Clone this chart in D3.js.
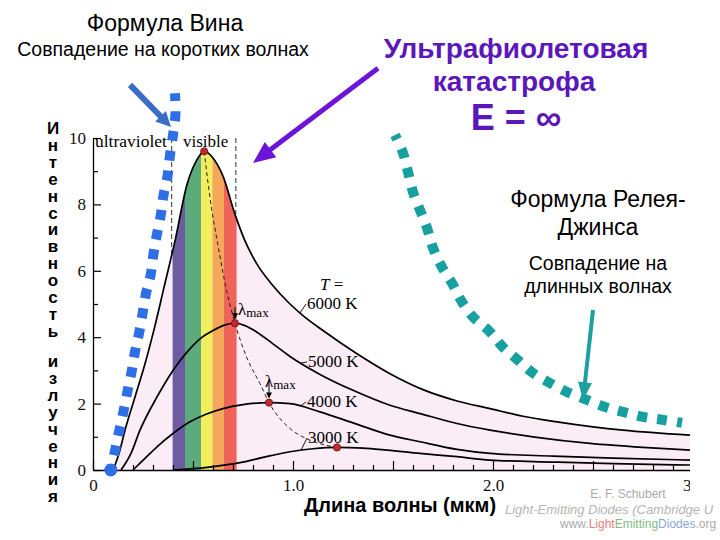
<!DOCTYPE html>
<html><head><meta charset="utf-8">
<script src="https://cdn.jsdelivr.net/npm/d3@7/dist/d3.min.js"></script>
<style>html,body{margin:0;padding:0;background:#fff}svg{display:block}
.vt{writing-mode:vertical-rl;text-orientation:upright;}</style>
</head><body>
<svg width="720" height="540"></svg>
<script>
// ---------- DATA (wavelength, µm ; intensity, a.u.) ----------
const curve6000 = [[0.10,0],[0.13,0.5],[0.16,1.2],[0.21,2.2],[0.26,3.2],[0.31,4.35],[0.355,5.5],[0.41,6.9],[0.47,8.6],[0.52,9.35],[0.556,9.6],[0.60,9.4],[0.65,8.85],[0.71,7.7],[0.76,6.9],[0.82,6.2],[0.90,5.55],[0.985,5.0],[1.05,4.65],[1.15,4.2],[1.32,3.5],[1.485,2.9],[1.65,2.42],[1.82,2.08],[1.985,1.85],[2.15,1.62],[2.32,1.45],[2.5,1.3],[2.65,1.2],[2.985,1.05]];
const curve5000 = [[0.14,0],[0.19,0.5],[0.235,1.2],[0.32,2.2],[0.40,3.0],[0.47,3.55],[0.535,3.95],[0.60,4.2],[0.65,4.35],[0.71,4.42],[0.76,4.35],[0.82,4.15],[0.90,3.8],[0.985,3.42],[1.135,2.88],[1.30,2.4],[1.485,1.95],[1.635,1.7],[1.82,1.4],[1.985,1.2],[2.2,1.0],[2.485,0.8],[2.75,0.68],[2.985,0.6]];
const curve4000 = [[0.20,0],[0.26,0.35],[0.32,0.7],[0.40,1.1],[0.485,1.45],[0.565,1.68],[0.65,1.85],[0.75,1.97],[0.88,2.03],[0.985,2.0],[1.135,1.75],[1.30,1.42],[1.485,1.05],[1.635,0.85],[1.82,0.62],[1.985,0.5],[2.3,0.42],[2.6,0.36],[2.985,0.3]];
const curve3000 = [[0.40,0],[0.57,0.08],[0.735,0.22],[0.85,0.38],[0.985,0.55],[1.1,0.64],[1.22,0.68],[1.35,0.66],[1.47,0.6],[1.635,0.5],[1.82,0.4],[1.985,0.3],[2.3,0.24],[2.6,0.19],[2.985,0.15]];
const wienPeakLine = [[0.556,9.6],[0.585,8.2],[0.627,6.7],[0.668,5.4],[0.71,4.42],[0.768,3.4],[0.835,2.6],[0.88,2.03],[0.985,1.25],[1.085,0.9],[1.22,0.68]];
const peaks = [[0.556,9.6],[0.71,4.42],[0.88,2.03],[1.22,0.68]];
const wienApprox = [[0.089,0],[0.11,0.58],[0.13,1.15],[0.152,1.75],[0.172,2.36],[0.193,2.96],[0.21,3.56],[0.231,4.14],[0.248,4.72],[0.265,5.32],[0.289,5.9],[0.302,6.5],[0.319,7.08],[0.339,7.68],[0.352,8.26],[0.372,8.83],[0.385,9.49],[0.40,10.09],[0.412,10.7],[0.41,11.35]];
const rayleighJeans = [[1.51,10.09],[1.55,9.55],[1.575,8.98],[1.60,8.37],[1.635,7.83],[1.67,7.29],[1.70,6.69],[1.745,6.11],[1.795,5.63],[1.845,5.06],[1.90,4.61],[1.985,4.16],[2.05,3.70],[2.125,3.31],[2.2,2.92],[2.285,2.62],[2.37,2.35],[2.47,2.11],[2.56,1.90],[2.65,1.75],[2.75,1.60],[2.85,1.51],[2.945,1.42]];
const bandEdges = [0.398,0.46,0.54,0.597,0.655,0.718];
const uvBoundary = [0.393, 10, 6.4];
const visBoundary = [0.714, 10, 7.7];
const xTickValues = [0,0.5,1,1.5,2,2.5,3];
const xTickLabels = ["0","","1.0","","2.0","","3.0"];
const yTickValues = [0,2,4,6,8,10];
const yTickLabels = ["0","2","4","6","8","10"];
const tempLabels = ["6000 K","5000 K","4000 K","3000 K"];
const yTitleWords = ["Интенсивность","излучения"];

// ---------- STYLE ----------
const bandColors = ["#6c5da3","#5bab7c","#f1ef5e","#f5a75a","#ef6459"];
const purple = "#5b17b8";

const svg = d3.select("svg");
const defs = svg.append("defs");
const x = d3.scaleLinear([0,3],[93,693]);
const y = d3.scaleLinear([0,10],[470,138]);

defs.append("clipPath").attr("id","plotclip").append("rect")
  .attr("x",0).attr("y",0).attr("width",690).attr("height",540);
const plot = svg.append("g").attr("clip-path","url(#plotclip)");

const line = d3.line().x(d=>x(d[0])).y(d=>y(d[1])).curve(d3.curveMonotoneX);
const area = d3.area().x(d=>x(d[0])).y0(y(0)).y1(d=>y(d[1])).curve(d3.curveMonotoneX);

// pink area under 6000K
plot.append("path").attr("d", area(curve6000)).attr("fill","#fbedf5");
defs.append("clipPath").attr("id","under6000").append("path").attr("d", area(curve6000));
const bands = plot.append("g").attr("clip-path","url(#under6000)");
bands.selectAll("rect").data(d3.pairs(bandEdges)).join("rect")
  .attr("x", d=>x(d[0])).attr("width", d=>x(d[1])-x(d[0]))
  .attr("y", y(10.5)).attr("height", y(0)-y(10.5))
  .attr("fill", (d,i)=>bandColors[i]);

// boundary dashed lines
[uvBoundary, visBoundary].forEach(b=>{
  plot.append("line").attr("x1",x(b[0])).attr("x2",x(b[0])).attr("y1",y(b[1])).attr("y2",y(b[2]))
    .attr("stroke","#555").attr("stroke-width",1.2).attr("stroke-dasharray","5,3");
});

// Wien displacement dashed line
plot.append("path").attr("d", line(wienPeakLine)).attr("fill","none")
  .attr("stroke","#222").attr("stroke-width",1).attr("stroke-dasharray","4,3");

// curves
[curve6000, curve5000, curve4000, curve3000].forEach(c=>{
  plot.append("path").attr("d", line(c)).attr("fill","none")
    .attr("stroke","#000").attr("stroke-width",1.7);
});

// axes
const fontSerif = "'Liberation Serif','Times New Roman',serif";
plot.append("g").attr("transform",`translate(${x(0)},0)`)
  .call(d3.axisLeft(y).tickValues(yTickValues).tickFormat((d,i)=>yTickLabels[i])
    .tickSizeInner(-8).tickSizeOuter(0).tickPadding(7));
plot.append("g").attr("transform",`translate(${x(0)},0)`)
  .call(d3.axisLeft(y).tickValues([1,3,5,7,9]).tickFormat("").tickSizeInner(-5).tickSizeOuter(0))
  .select(".domain").remove();
plot.append("g").attr("transform",`translate(0,${y(0)})`)
  .call(d3.axisBottom(x).tickValues(xTickValues).tickFormat((d,i)=>xTickLabels[i])
    .tickSizeInner(-9).tickSizeOuter(0).tickPadding(9));
plot.append("g").attr("transform",`translate(0,${y(0)})`)
  .call(d3.axisBottom(x).tickValues(d3.range(0,31).map(i=>i/10).filter(v=>Math.abs(v*2-Math.round(v*2))>1e-6))
    .tickFormat("").tickSizeInner(-5).tickSizeOuter(0))
  .select(".domain").remove();
plot.selectAll(".tick line").attr("stroke","#000").attr("stroke-width",1.2);
plot.selectAll(".domain").attr("stroke","#000").attr("stroke-width",1.3);
plot.selectAll(".tick text").attr("font-family",fontSerif).attr("font-size",17).attr("fill","#111");

// region labels
plot.append("text").attr("x",95).attr("y",147).attr("font-family",fontSerif).attr("font-size",17.5).text("ultraviolet");
plot.append("text").attr("x",183).attr("y",147).attr("font-family",fontSerif).attr("font-size",17).text("visible");

// temperature labels
const tl = [[307,309],[308,367],[307,407],[308,443]];
plot.append("text").attr("x",320).attr("y",290).attr("font-family",fontSerif).attr("font-size",17)
  .html('<tspan font-style="italic">T</tspan> =');
const curves = [curve6000, curve5000, curve4000, curve3000];
tempLabels.forEach((t,i)=>{
  plot.append("text").attr("x",tl[i][0]).attr("y",tl[i][1]).attr("font-family",fontSerif).attr("font-size",17).text(t);
  const c = curves[i];
  const interp = d3.scaleLinear(c.map(d=>d[0]), c.map(d=>d[1]));
  const lx = tl[i][0]-1, ly = tl[i][1]-5;
  const ex = lx-6, ey = y(interp(x.invert(ex)));
  plot.append("line").attr("x1",lx).attr("y1",ly).attr("x2",ex).attr("y2",ey).attr("stroke","#000").attr("stroke-width",0.9);
});

// lambda max labels with arrows
function smallArrow(px, y0, y1){
  plot.append("line").attr("x1",px).attr("x2",px).attr("y1",y0).attr("y2",y1-4).attr("stroke","#000").attr("stroke-width",1);
  plot.append("polygon").attr("points",`${px},${y1} ${px-3},${y1-6} ${px+3},${y1-6}`).attr("fill","#000");
}
[[1,3,8],[2,-4,16]].forEach(([pi,dx,dy])=>{
  const px = x(peaks[pi][0]), py = y(peaks[pi][1]);
  plot.append("text").attr("x",px+dx).attr("y",py-dy).attr("font-family",fontSerif).attr("font-size",17)
    .html('λ<tspan font-size="13" dy="2">max</tspan>');
  smallArrow(px, py-dy-8, py-4);
});

// peak dots
plot.selectAll("circle.pk").data(peaks).join("circle").attr("class","pk")
  .attr("cx",d=>x(d[0])).attr("cy",d=>y(d[1])).attr("r",3.6)
  .attr("fill","#c22a2e").attr("stroke","#6b0f12").attr("stroke-width",0.8);

// ---------- overlays ----------
const sans = "'Liberation Sans',Arial,sans-serif";
// y title, stacked upright letters (vertical writing mode)
yTitleWords.forEach((w,wi)=>{
  svg.append("text").attr("class","vt").attr("x",53).attr("y",wi===0?119:352)
    .attr("font-family",sans).attr("font-weight","bold").attr("font-size",17)
    .attr("letter-spacing","-2.1px").text(w);
});

// Wien approximation (blue dotted)
const curveSmooth = d3.line().x(d=>x(d[0])).y(d=>y(d[1])).curve(d3.curveCatmullRom);
svg.append("path").attr("d", curveSmooth(wienApprox)).attr("fill","none")
  .attr("stroke","#2f6fe6").attr("stroke-width",10).attr("stroke-dasharray","10 10").attr("stroke-dashoffset",5);
svg.append("circle").attr("cx",x(wienApprox[0][0])).attr("cy",y(wienApprox[0][1])).attr("r",6.5).attr("fill","#2f6fe6");

// Rayleigh-Jeans (teal dotted)
svg.append("path").attr("d", curveSmooth(rayleighJeans)).attr("fill","none")
  .attr("stroke","#17a0a0").attr("stroke-width",10).attr("stroke-dasharray","10 10").attr("stroke-dashoffset",5);

function arrow(p0,p1,color,w,hl,hw){
  const x0=x(p0[0]),y0=y(p0[1]),x1=x(p1[0]),y1=y(p1[1]);
  const dx=x1-x0,dy=y1-y0,L=Math.hypot(dx,dy),ux=dx/L,uy=dy/L;
  const bx=x1-ux*hl,by=y1-uy*hl;
  svg.append("line").attr("x1",x0).attr("y1",y0).attr("x2",bx+ux*2).attr("y2",by+uy*2)
    .attr("stroke",color).attr("stroke-width",w);
  svg.append("polygon").attr("points",`${x1},${y1} ${bx-uy*hw/2},${by+ux*hw/2} ${bx+uy*hw/2},${by-ux*hw/2}`).attr("fill",color);
}
arrow([0.185,11.6],[0.39,10.33],"#3a6cc8",6,15,15);
arrow([1.425,12.1],[0.80,9.25],"#6c14d8",5,22,19);
arrow([2.5,4.82],[2.45,2.1],"#1ea0a0",4,18,14);

// texts
function txt(t,cx,by,size,opts={}){
  svg.append("text").attr("x",cx).attr("y",by).attr("text-anchor",opts.anchor||"middle")
    .attr("font-family",sans).attr("font-size",size).attr("font-weight",opts.bold?"bold":"normal")
    .attr("fill",opts.fill||"#000").attr("font-style",opts.italic?"italic":"normal").text(t);
}
txt("Формула Вина",165,31,23);
txt("Совпадение на коротких волнах",163,56,19.5);
txt("Ультрафиолетовая",516,58,28,{bold:true,fill:purple});
txt("катастрофа",514,91,28,{bold:true,fill:purple});
txt("E = ∞",516,130,36,{bold:true,fill:purple});
txt("Формула Релея-",598,207,23);
txt("Джинса",598,235,23);
txt("Совпадение на",598,270,19.5);
txt("длинных волнах",598,293,19.5);
txt("Длина волны (мкм)",400,512,20,{bold:true});

// credits
txt("E. F. Schubert",628,498,12,{fill:"#aaa"});
txt("Light-Emitting Diodes (Cambridge U",505,514,13,{anchor:"start",fill:"#b5b5b5",italic:true});
svg.append("text").attr("x",560).attr("y",528).attr("font-family",sans).attr("font-size",12)
  .html('<tspan fill="#aaa">www.</tspan><tspan fill="#e38080">Light</tspan><tspan fill="#80bb80">Emitting</tspan><tspan fill="#8aa4dc">Diodes</tspan><tspan fill="#aaa">.org</tspan>');
</script>
</body></html>
